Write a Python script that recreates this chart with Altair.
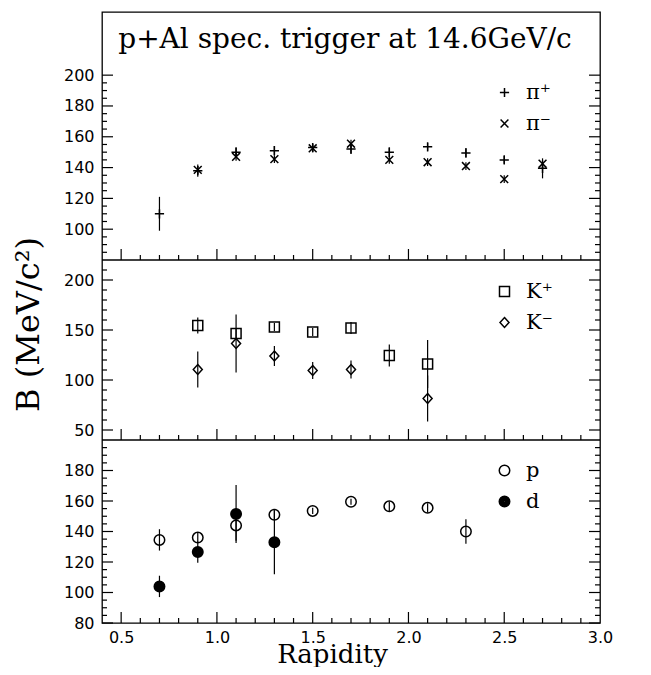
import altair as alt
import pandas as pd

# ---------------- data ----------------
header = "p+Al spec. trigger at 14.6GeV/c"
y_title = "B (MeV/c²)"
x_title = "Rapidity"

# pions
pip_label, pim_label = "π⁺", "π⁻"
pip_x = [0.7, 0.9, 1.1, 1.3, 1.5, 1.7, 1.9, 2.1, 2.3, 2.5, 2.7]
pip_b = [110, 138, 150, 151, 153, 152, 150, 153.5, 149.5, 145, 139.5]
pip_err = [11, 4, 3, 3, 2.5, 3, 3, 2.5, 3, 2.5, 6.5]
pim_x = [0.9, 1.1, 1.3, 1.5, 1.7, 1.9, 2.1, 2.3, 2.5, 2.7]
pim_b = [138.5, 147, 145.5, 152.5, 155.5, 145, 143.5, 141, 132.5, 142.5]
pim_err = [2.5, 2.5, 2.5, 2.5, 2.5, 2.5, 2.5, 2.5, 2.5, 2.5]

# kaons
kp_label, km_label = "K⁺", "K⁻"
kp_x = [0.9, 1.1, 1.3, 1.5, 1.7, 1.9, 2.1]
kp_b = [154.5, 146.5, 153, 148, 152, 124.5, 116]
kp_err = [8, 5, 4, 4, 6, 11, 24]
km_x = [0.9, 1.1, 1.3, 1.5, 1.7, 2.1]
km_b = [110.5, 136.5, 124, 109.5, 110.5, 81.5]
km_err = [18, 29, 10, 8.5, 9, 23]

# protons and deuterons
p_label, d_label = "p", "d"
p_x = [0.7, 0.9, 1.1, 1.3, 1.5, 1.7, 1.9, 2.1, 2.3]
p_b = [134.5, 136, 144, 151, 153.5, 159.5, 156.5, 155.5, 140]
p_err = [7, 3, 10, 3, 2, 2, 3, 3, 8]
d_x = [0.7, 0.9, 1.1, 1.3]
d_b = [104, 126.5, 151.5, 133]
d_err = [7, 7, 19, 21]

# axes
x_domain = [0.4, 3.0]
x_labels = [0.5, 1.0, 1.5, 2.0, 2.5, 3.0]
x_major = [0.5, 1.0, 1.5, 2.0, 2.5]
x_minor = [0.6, 0.7, 0.8, 0.9, 1.1, 1.2, 1.3, 1.4, 1.6, 1.7, 1.8, 1.9,
           2.1, 2.2, 2.3, 2.4, 2.6, 2.7, 2.8, 2.9]

top_domain = [80, 241]
top_major = [100, 120, 140, 160, 180, 200]
top_minor = [85, 90, 95, 105, 110, 115, 125, 130, 135, 145, 150, 155,
             165, 170, 175, 185, 190, 195]
mid_domain = [40, 220]
mid_major = [50, 100, 150, 200]
mid_minor = [60, 70, 80, 90, 110, 120, 130, 140, 160, 170, 180, 190, 210]
bot_domain = [80, 200]
bot_major = [80, 100, 120, 140, 160, 180]
bot_minor = [85, 90, 95, 105, 110, 115, 125, 130, 135, 145, 150, 155,
             165, 170, 175, 185, 190, 195]

# ---------------- layout / styling ----------------
W = 498
H_TOP, H_MID, H_BOT = 248, 180, 183
H = H_TOP + H_MID + H_BOT
SERIF = "DejaVu Serif"
SANS = "DejaVu Sans"
PLUS = "M-1,0L1,0M0,-1L0,1"
XMARK = "M-0.85,-0.85L0.85,0.85M-0.85,0.85L0.85,-0.85"
DIAMOND = "M0,-1L0.9,0L0,1L-0.9,0Z"


def ring(r):
    return f"M{r},0A{r},{r} 0 1,1 -{r},0A{r},{r} 0 1,1 {r},0"


# solid disc drawn as tightly packed rings (stroked symbols only)
DISC = "".join(ring(r) for r in (1.0, 0.82, 0.64, 0.46, 0.28, 0.1))

XS = alt.Scale(domain=x_domain, nice=False, zero=False)
XAXIS = alt.Axis(values=x_labels, ticks=False, domain=False, grid=False,
                 labelFont=SANS, labelFontSize=16, labelColor="black",
                 labelPadding=6, labelFlush=False, format=".1f",
                 title=x_title, titleFont=SERIF, titleFontSize=26,
                 titleFontWeight="normal", titleColor="black",
                 titleX=230, titleY=39, titleBaseline="alphabetic",
                 titleAlign="center")


def frame(series):
    rows = []
    for label, xs, bs, es in series:
        for x, b, e in zip(xs, bs, es):
            rows.append({"s": label, "x": x, "b": b, "lo": b - e, "hi": b + e})
    return pd.DataFrame(rows)


def panel(series, shapes, ydom, ymajor, yminor, y0, h, legend_y,
          size, bottom=False, text=None):
    df = frame(series)
    labels = [s[0] for s in series]
    ys = alt.Scale(domain=ydom, range=[y0 + h, y0], nice=False, zero=False)
    yaxis = alt.Axis(orient="left", values=ymajor, ticks=False, domain=False,
                     grid=False, labelFont=SANS, labelFontSize=16,
                     labelColor="black", labelPadding=8, labelFlush=False,
                     labelOverlap=False, title=None)

    leg = alt.Legend(orient="none", legendX=392, legendY=legend_y, padding=0,
                     labelFont=SERIF, labelFontSize=21, labelColor="black",
                     labelOffset=11, rowPadding=9, symbolSize=size,
                     symbolStrokeWidth=1.5, symbolStrokeColor="black",
                     symbolOpacity=1)

    base = alt.Chart(df)
    pts = base.mark_point(size=size, filled=False, color="black",
                          strokeWidth=1.5, opacity=1).encode(
        x=alt.X("x:Q", scale=XS, axis=XAXIS),
        y=alt.Y("b:Q", scale=ys, axis=yaxis),
        shape=alt.Shape("s:N", scale=alt.Scale(domain=labels, range=shapes),
                        legend=leg, title=None),
    )
    err = base.mark_rule(color="black", strokeWidth=1.2).encode(
        x=alt.X("x:Q", scale=XS, axis=XAXIS),
        y=alt.Y("lo:Q", scale=ys, axis=yaxis),
        y2="hi:Q",
    )

    def yticks(vals, x1, x2):
        return alt.Chart(pd.DataFrame({"v": vals})).mark_rule(
            color="black", strokeWidth=1.2).encode(
            y=alt.Y("v:Q", scale=ys, axis=yaxis),
            x=alt.value(x1), x2=alt.value(x2))

    floor = pd.DataFrame({"f": [ydom[0]]})

    def xticks(vals, length):
        d = pd.DataFrame({"v": vals, "f": [ydom[0]] * len(vals)})
        return alt.Chart(d).mark_rule(
            color="black", strokeWidth=1.2, y2Offset=-length).encode(
            x=alt.X("v:Q", scale=XS, axis=XAXIS),
            y=alt.Y("f:Q", scale=ys, axis=yaxis), y2="f:Q")

    layers = [pts, err,
              yticks(ymajor, 0, 11), yticks(yminor, 0, 5),
              yticks(ymajor, W, W - 11), yticks(yminor, W, W - 5),
              xticks(x_major, 11), xticks(x_minor, 5)]
    if not bottom:
        # separator line between this panel and the next one
        layers.append(alt.Chart(floor).mark_rule(
            color="black", strokeWidth=1.3).encode(
            y=alt.Y("f:Q", scale=ys, axis=yaxis)))
    if text is not None:
        layers.append(
            alt.Chart(pd.DataFrame({"t": [text]})).mark_text(
                font=SERIF, fontSize=28, color="black", align="center",
                baseline="alphabetic").encode(
                text="t:N", x=alt.value(243), y=alt.value(y0 + 36)))
    return alt.layer(*layers)


top = panel([(pip_label, pip_x, pip_b, pip_err), (pim_label, pim_x, pim_b, pim_err)],
            [PLUS, XMARK], top_domain, top_major, top_minor,
            0, H_TOP, 70, 85, text=header)
mid = panel([(kp_label, kp_x, kp_b, kp_err), (km_label, km_x, km_b, km_err)],
            ["square", DIAMOND], mid_domain, mid_major, mid_minor,
            H_TOP, H_MID, H_TOP + 21, 100)
bot = panel([(p_label, p_x, p_b, p_err), (d_label, d_x, d_b, d_err)],
            ["circle", DISC], bot_domain, bot_major, bot_minor,
            H_TOP + H_MID, H_BOT, H_TOP + H_MID + 20, 110, bottom=True)

chart = alt.layer(top, mid, bot).resolve_scale(
    y="independent", shape="independent"
).resolve_axis(
    y="independent"
).resolve_legend(
    shape="independent"
).properties(
    width=W, height=H,
    title=alt.TitleParams(text=y_title, orient="left", anchor="middle",
                          font=SERIF, fontSize=32, fontWeight="normal",
                          color="black", offset=17, dx=-7),
    padding={"left": 5, "top": 4, "right": 5, "bottom": 0},
).configure_view(stroke="black", strokeWidth=1.3)

chart.save("out.html", embed_options={"renderer": "svg", "actions": False})
